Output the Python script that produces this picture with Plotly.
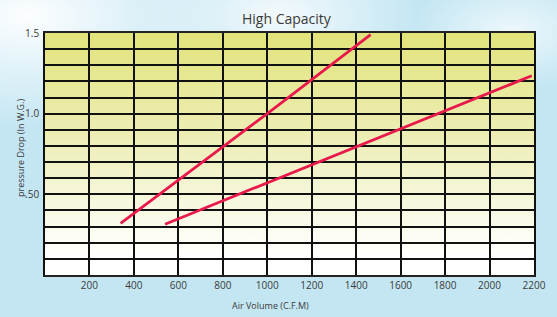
import plotly.graph_objects as go
import base64

# ---- data ----
line1_x = [340, 1000, 1465]
line1_y = [0.32, 1.0, 1.49]
line2_x = [540, 1400, 2190]
line2_y = [0.315, 0.795, 1.235]

x_tick_vals = [0, 200, 400, 600, 800, 1000, 1200, 1400, 1600, 1800, 2000, 2200]
x_tick_text = ["", "200", "400", "600", "800", "1000", "1200", "1400", "1600", "1800", "2000", "2200"]
y_tick_vals = [round(0.1 * i, 1) for i in range(16)]
y_tick_labels = {0.5: ".50", 1.0: "1.0", 1.5: "1.5"}
y_tick_text = [y_tick_labels.get(v, "") for v in y_tick_vals]

title = "High Capacity"
x_title = "Air Volume (C.F.M)"
y_title = "pressure Drop (In W.G.)"

RED = "#e8194b"
TXT = "#3a3a3a"
FONT = "Open Sans"

# background images (svg data uris)
bg_svg = """<svg xmlns='http://www.w3.org/2000/svg' width='557' height='317'>
<defs>
<radialGradient id='a' cx='0.05' cy='0.05' r='0.35'>
<stop offset='0' stop-color='#ffffff' stop-opacity='0.95'/>
<stop offset='1' stop-color='#ffffff' stop-opacity='0'/>
</radialGradient>
<radialGradient id='b' cx='0.5' cy='0.05' r='0.25'>
<stop offset='0' stop-color='#ffffff' stop-opacity='0.8'/>
<stop offset='1' stop-color='#ffffff' stop-opacity='0'/>
</radialGradient>
<radialGradient id='c' cx='0.92' cy='0.1' r='0.18'>
<stop offset='0' stop-color='#ffffff' stop-opacity='0.7'/>
<stop offset='1' stop-color='#ffffff' stop-opacity='0'/>
</radialGradient>
</defs>
<rect width='557' height='317' fill='#c4e6f3'/>
<rect width='557' height='317' fill='url(#a)'/>
<rect width='557' height='317' fill='url(#b)'/>
<rect width='557' height='317' fill='url(#c)'/>
</svg>"""

plot_svg = """<svg xmlns='http://www.w3.org/2000/svg' width='100' height='100' preserveAspectRatio='none'>
<defs>
<linearGradient id='g' x1='0' y1='0' x2='0' y2='1'>
<stop offset='0' stop-color='#e1e37a'/>
<stop offset='0.5' stop-color='#eff0c0'/>
<stop offset='0.92' stop-color='#ffffff'/>
</linearGradient>
</defs>
<rect width='100' height='100' fill='url(#g)'/>
</svg>"""


def uri(s):
    return "data:image/svg+xml;base64," + base64.b64encode(s.encode()).decode()


fig = go.Figure()
fig.add_trace(go.Scatter(x=line1_x, y=line1_y, mode="lines",
                         line=dict(color=RED, width=2.8), showlegend=False, hoverinfo="skip"))
fig.add_trace(go.Scatter(x=line2_x, y=line2_y, mode="lines",
                         line=dict(color=RED, width=2.8), showlegend=False, hoverinfo="skip"))

fig.update_layout(
    width=557, height=317,
    margin=dict(l=45, r=23, t=33, b=42),
    paper_bgcolor="#c4e6f3",
    plot_bgcolor="rgba(0,0,0,0)",
    font=dict(family=FONT, color=TXT, size=10),
    showlegend=False,
    images=[
        dict(source=uri(bg_svg), xref="paper", yref="paper", x=-45 / 489, y=1 + 33 / 242,
             sizex=557 / 489, sizey=317 / 242, xanchor="left", yanchor="top",
             sizing="stretch", layer="below"),
        dict(source=uri(plot_svg), xref="paper", yref="paper", x=0, y=1,
             sizex=1, sizey=1, xanchor="left", yanchor="top",
             sizing="stretch", layer="below"),
    ],
    annotations=[
        dict(text=title, xref="paper", yref="paper", x=(287 - 45) / 489, y=1 + (33 - 18) / 242,
             showarrow=False, font=dict(size=14, color=TXT), xanchor="center", yanchor="middle"),
        dict(text=x_title, xref="paper", yref="paper", x=(270 - 45) / 489, y=-(305 - 275) / 242,
             showarrow=False, font=dict(size=9, color=TXT), xanchor="center", yanchor="middle"),
        dict(text=y_title, xref="paper", yref="paper", x=-(45 - 20) / 489, y=(275 - 148) / 242,
             showarrow=False, font=dict(size=9, color=TXT), textangle=-90,
             xanchor="center", yanchor="middle"),
    ],
)

fig.update_xaxes(range=[0, 2200], tickvals=x_tick_vals, ticktext=x_tick_text,
                 showgrid=True, gridcolor="#111111", gridwidth=1.6,
                 showline=True, linecolor="#222222", linewidth=1.6, mirror=True,
                 zeroline=False, ticks="", tickfont=dict(size=10, color=TXT),
                 fixedrange=True)
fig.update_yaxes(range=[0, 1.5], tickvals=y_tick_vals, ticktext=y_tick_text,
                 showgrid=True, gridcolor="#111111", gridwidth=1.6,
                 showline=True, linecolor="#111111", linewidth=1.8, mirror=True,
                 zeroline=False, ticks="", tickfont=dict(size=10, color=TXT),
                 ticklabelstandoff=2, fixedrange=True)

fig.write_html(
    "out.html",
    config={"displayModeBar": False},
    post_script="document.body.style.margin='0';document.body.style.background='#c4e6f3';",
)
